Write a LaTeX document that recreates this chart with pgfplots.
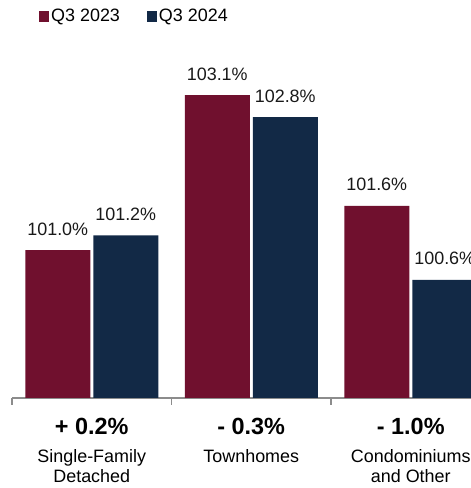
\documentclass[border=0pt]{standalone}
\usepackage{pgfplots}
\pgfplotsset{compat=1.18}
\usepackage{fontspec}
\setmainfont{Liberation Sans}
\definecolor{maroon}{RGB}{112,16,46}
\definecolor{navy}{RGB}{18,41,70}
\definecolor{axgray}{RGB}{140,140,140}
\begin{document}
\begin{tikzpicture}[x=1bp,y=1bp]
\clip (0,0) rectangle (471,488);
\begin{axis}[
  at={(12bp,90bp)}, anchor=south west,
  scale only axis, width=478.5bp, height=398bp,
  xmin=-0.5, xmax=2.5, ymin=99, ymax=104.386,
  clip mode=individual,
  ybar=3bp, bar width=65bp,
  axis x line*=bottom, axis y line=none,
  xtick={-0.5,0.5,1.5,2.5}, xticklabels={},
  tick align=outside, major tick length=7bp,
  x axis line style={axgray, line width=1.5bp},
  xtick style={axgray, line width=1.5bp},
  ytick=\empty,
  /pgf/number format/assume math mode=true,
  nodes near coords={\pgfmathprintnumber[fixed,fixed zerofill,precision=1]{\pgfplotspointmeta}\%},
  every node near coord/.append style={anchor=base, yshift=15bp, font=\fontsize{18}{21}\selectfont, text=black!90},
  legend style={draw=none, fill=none, at={(0,1)}, anchor=north west, xshift=24bp, yshift=-5bp,
    font=\fontsize{18}{21}\selectfont, legend columns=2,
    /tikz/every even column/.append style={column sep=25bp},
    nodes={inner sep=2bp}},
  legend image code/.code={\fill[#1] (0bp,-5.5bp) rectangle (10bp,5.5bp);},
]
\addplot[fill=maroon, draw=none] coordinates {(0,101.0) (1,103.1) (2,101.6)};
\addplot[fill=navy, draw=none] coordinates {(0,101.2) (1,102.8) (2,100.6)};
\legend{Q3 2023, Q3 2024}
\node[anchor=base, font=\bfseries\fontsize{23.5}{26}\selectfont] at (axis cs:0,99) [yshift=-37bp] {+ 0.2\%};
\node[anchor=base, font=\bfseries\fontsize{23.5}{26}\selectfont] at (axis cs:1,99) [yshift=-37bp] {- 0.3\%};
\node[anchor=base, font=\bfseries\fontsize{23.5}{26}\selectfont] at (axis cs:2,99) [yshift=-37bp] {- 1.0\%};
\node[anchor=base, font=\fontsize{18}{21}\selectfont] at (axis cs:0,99) [yshift=-64bp] {Single-Family};
\node[anchor=base, font=\fontsize{18}{21}\selectfont] at (axis cs:0,99) [yshift=-84bp] {Detached};
\node[anchor=base, font=\fontsize{18}{21}\selectfont] at (axis cs:1,99) [yshift=-64bp] {Townhomes};
\node[anchor=base, font=\fontsize{18}{21}\selectfont] at (axis cs:2,99) [yshift=-64bp] {Condominiums};
\node[anchor=base, font=\fontsize{18}{21}\selectfont] at (axis cs:2,99) [yshift=-84bp] {and Other};
\end{axis}
\end{tikzpicture}
\end{document}
